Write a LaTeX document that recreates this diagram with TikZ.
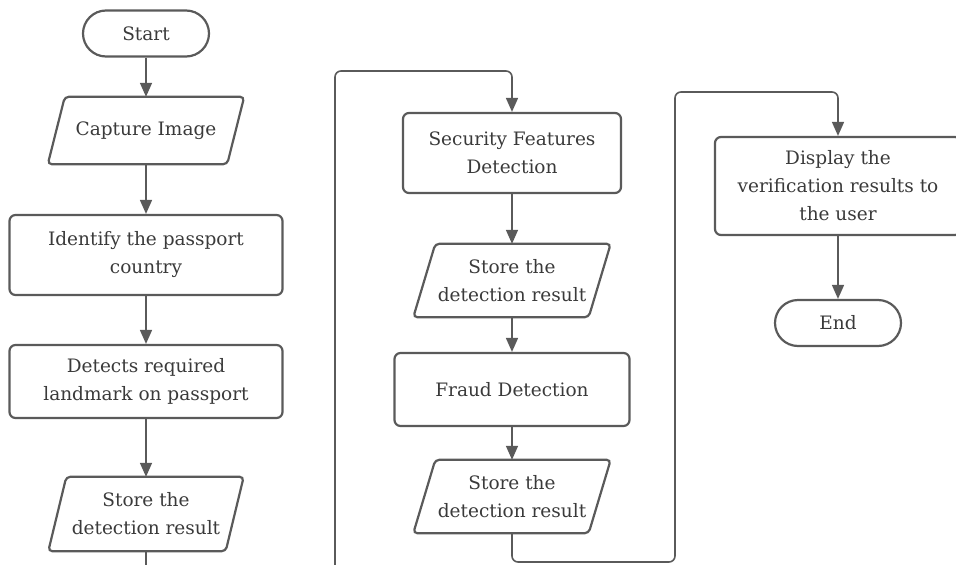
\documentclass[tikz,border=0pt]{standalone}
\usepackage{fontspec}
\setmainfont{DejaVu Serif}
\usetikzlibrary{arrows.meta}
\definecolor{edge}{HTML}{5A5A5A}
\definecolor{txt}{HTML}{3A3A3A}
\tikzset{
  every node/.style={font=\fontsize{18.5}{28}\selectfont, text=txt, align=center, inner sep=0pt},
  procbox/.style={draw=edge, line width=2.2pt, rounded corners=6pt},
  termbox/.style={draw=edge, line width=2.2pt, rounded corners=23pt, minimum width=126pt, minimum height=46pt},
  iobox/.style={inner sep=0pt},
  conn/.style={draw=edge, line width=1.6pt, -{Triangle[length=14pt,width=12pt]}},
  loopconn/.style={conn, rounded corners=6pt},
  para/.style={draw=edge, line width=2.2pt, rounded corners=4pt}
}
\newcommand{\paraoutline}[2]{%
  \draw[para] ([xshift=#2]#1.north west) -- (#1.north east) -- ([xshift=-#2]#1.south east) -- (#1.south west) -- cycle;}
\begin{document}
\begin{tikzpicture}[x=1pt,y=-1pt]
\useasboundingbox (0,0) rectangle (956,565);
\clip (0,0) rectangle (956,565);
% left column
\node[termbox] (start) at (146,33.5) {Start};
\node[iobox, minimum width=196pt, minimum height=67pt] (cap) at (146,130.5) {Capture Image};
\paraoutline{cap}{17pt}
\node[procbox, minimum width=273pt, minimum height=80pt] (ident) at (146,255) {Identify the passport\\country};
\node[procbox, minimum width=273pt, minimum height=73pt] (land) at (146,381.5) {Detects required\\landmark on passport};
\node[iobox, minimum width=195pt, minimum height=74pt] (st1) at (146,514) {Store the\\detection result};
\paraoutline{st1}{18pt}
% middle column
\node[procbox, minimum width=218pt, minimum height=80pt] (sec) at (512,153) {Security Features\\Detection};
\node[iobox, minimum width=197pt, minimum height=73pt] (st2) at (512,280.5) {Store the\\detection result};
\paraoutline{st2}{22pt}
\node[procbox, minimum width=235pt, minimum height=73pt] (fraud) at (512,389.5) {Fraud Detection};
\node[iobox, minimum width=197pt, minimum height=73pt] (st3) at (512,496.5) {Store the\\detection result};
\paraoutline{st3}{22pt}
% right column
\node[procbox, minimum width=246pt, minimum height=98pt] (disp) at (838,186) {Display the\\verification results to\\the user};
\node[termbox] (end) at (838,323) {End};
% connectors
\draw[conn] (start) -- (cap);
\draw[conn] (cap) -- (ident);
\draw[conn] (ident) -- (land);
\draw[conn] (land) -- (st1);
\draw[loopconn] (st1.south) -- (st1.south |- 0,585) -- (335,585) -- (335,71) -- (sec.north |- 0,71) -- (sec.north);
\draw[conn] (sec) -- (st2);
\draw[conn] (st2) -- (fraud);
\draw[conn] (fraud) -- (st3);
\draw[loopconn] (st3.south) -- (st3.south |- 0,562) -- (675,562) -- (675,92) -- (disp.north |- 0,92) -- (disp.north);
\draw[conn] (disp) -- (end);
\end{tikzpicture}
\end{document}
